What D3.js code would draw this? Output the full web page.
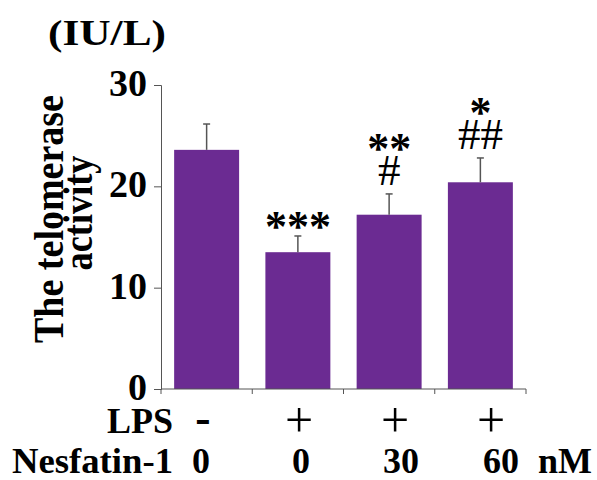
<!DOCTYPE html>
<html>
<head>
<meta charset="utf-8">
<script src="https://cdnjs.cloudflare.com/ajax/libs/d3/7.8.5/d3.min.js"></script>
<style>
  body { margin: 0; background: #fff; }
  svg text { font-family: "Liberation Serif", "Times New Roman", serif; }
</style>
</head>
<body>
<script>
// data
var groups = ["ctrl", "lps", "lps30", "lps60"];
var means = [23.6, 13.5, 17.2, 20.4];
var errs = [2.55, 1.6, 2.05, 2.4];
var stars = ["", "***", "**", "*"];
var hashes = ["", "", "#", "##"];
var lpsLabels = ["-", "+", "+", "+"];
var nesLabels = ["0", "0", "30", "60"];
var yTicks = [0, 10, 20, 30];

var width = 597, height = 480;

var svg = d3.select("body").append("svg")
    .attr("width", width)
    .attr("height", height);

var x = d3.scaleBand().domain(groups).range([161, 526]).paddingInner(0.288).paddingOuter(0.144);
var y = d3.scaleLinear().domain([0, 30]).range([389, 85]);
// columns of the condition labels under the axis
var lpsCol = d3.scalePoint().domain(groups).range([203, 491]);
var nesCol = d3.scalePoint().domain(groups).range([201, 501]);

var axisColor = "#555";

// bars
svg.selectAll("rect.bar")
    .data(groups)
    .enter().append("rect")
    .attr("class", "bar")
    .attr("x", function (d) { return x(d); })
    .attr("width", x.bandwidth())
    .attr("y", function (d, i) { return y(means[i]); })
    .attr("height", function (d, i) { return y(0) - y(means[i]); })
    .attr("fill", "#6b2b92");

// error bars (upper only)
var eb = svg.selectAll("g.err")
    .data(groups)
    .enter().append("g")
    .attr("class", "err");
eb.append("line")
    .attr("x1", function (d) { return x(d) + x.bandwidth() / 2; })
    .attr("x2", function (d) { return x(d) + x.bandwidth() / 2; })
    .attr("y1", function (d, i) { return y(means[i]); })
    .attr("y2", function (d, i) { return y(means[i] + errs[i]); })
    .attr("stroke", axisColor).attr("stroke-width", 1.5);
eb.append("line")
    .attr("x1", function (d) { return x(d) + x.bandwidth() / 2 - 3.5; })
    .attr("x2", function (d) { return x(d) + x.bandwidth() / 2 + 3.5; })
    .attr("y1", function (d, i) { return y(means[i] + errs[i]); })
    .attr("y2", function (d, i) { return y(means[i] + errs[i]); })
    .attr("stroke", axisColor).attr("stroke-width", 1.5);

// significance marks
groups.forEach(function (d, i) {
    var cx = x(d) + x.bandwidth() / 2;
    var top = y(means[i] + errs[i]);
    var starBase = top + 5;
    if (hashes[i]) {
        var hashBase = top - 9;
        svg.append("text")
            .attr("x", cx).attr("y", hashBase)
            .attr("text-anchor", "middle")
            .attr("font-size", 45)
            .text(hashes[i]);
        starBase = hashBase - 22;
    }
    if (stars[i]) {
        svg.append("text")
            .attr("x", cx).attr("y", starBase)
            .attr("text-anchor", "middle")
            .attr("font-size", 44).attr("font-weight", "bold")
            .text(stars[i]);
    }
});

// y axis
var yAxis = svg.append("g")
    .attr("transform", "translate(161,0)")
    .call(d3.axisLeft(y).tickValues(yTicks).tickSize(7).tickPadding(7).tickFormat(d3.format("d")));
yAxis.select(".domain").attr("stroke", axisColor);
yAxis.selectAll(".tick line").attr("stroke", axisColor);
yAxis.selectAll(".tick text")
    .attr("font-family", "Liberation Serif, Times New Roman, serif")
    .attr("font-size", 38)
    .attr("font-weight", "bold")
    .attr("fill", "#000")
    .attr("dy", "0.28em");

// x axis with ticks at group boundaries
svg.append("line")
    .attr("x1", x.range()[0]).attr("x2", x.range()[1])
    .attr("y1", y(0)).attr("y2", y(0))
    .attr("stroke", axisColor);
svg.selectAll("line.xtick")
    .data(d3.range(groups.length + 1))
    .enter().append("line")
    .attr("class", "xtick")
    .attr("x1", function (i) { return x.range()[0] + i * x.step(); })
    .attr("x2", function (i) { return x.range()[0] + i * x.step(); })
    .attr("y1", y(0)).attr("y2", y(0) + 5)
    .attr("stroke", axisColor);

// unit label
svg.append("text")
    .attr("x", 48).attr("y", 45)
    .attr("font-size", 36).attr("font-weight", "bold")
    .attr("textLength", 118).attr("lengthAdjust", "spacingAndGlyphs")
    .text("(IU/L)");

// y title, two lines rotated
var yt = svg.append("g").attr("transform", "rotate(-90)");
yt.append("text")
    .attr("x", -219).attr("y", 63)
    .attr("text-anchor", "middle")
    .attr("font-size", 42).attr("font-weight", "bold")
    .attr("textLength", 248).attr("lengthAdjust", "spacingAndGlyphs")
    .text("The telomerase");
yt.append("text")
    .attr("x", -213).attr("y", 92)
    .attr("text-anchor", "middle")
    .attr("font-size", 42).attr("font-weight", "bold")
    .attr("textLength", 115).attr("lengthAdjust", "spacingAndGlyphs")
    .text("activity");

// condition rows
svg.append("text")
    .attr("x", 173).attr("y", 433)
    .attr("text-anchor", "end")
    .attr("font-size", 36).attr("font-weight", "bold")
    .text("LPS");
svg.selectAll("text.lps")
    .data(groups)
    .enter().append("text")
    .attr("class", "lps")
    .attr("x", function (d) { return lpsCol(d); })
    .attr("y", function (d, i) { return lpsLabels[i] === "+" ? 437 : 433; })
    .attr("text-anchor", "middle")
    .attr("font-size", function (d, i) { return lpsLabels[i] === "+" ? 50 : 46; })
    .attr("font-weight", function (d, i) { return lpsLabels[i] === "+" ? "normal" : "bold"; })
    .text(function (d, i) { return lpsLabels[i]; });

svg.append("text")
    .attr("x", 173).attr("y", 473)
    .attr("text-anchor", "end")
    .attr("font-size", 36).attr("font-weight", "bold")
    .attr("textLength", 161).attr("lengthAdjust", "spacingAndGlyphs")
    .text("Nesfatin-1");
svg.selectAll("text.nes")
    .data(groups)
    .enter().append("text")
    .attr("class", "nes")
    .attr("x", function (d) { return nesCol(d); })
    .attr("y", 473)
    .attr("text-anchor", "middle")
    .attr("font-size", 36).attr("font-weight", "bold")
    .text(function (d, i) { return nesLabels[i]; });
svg.append("text")
    .attr("x", 538).attr("y", 473)
    .attr("font-size", 36).attr("font-weight", "bold")
    .text("nM");
</script>
</body>
</html>
